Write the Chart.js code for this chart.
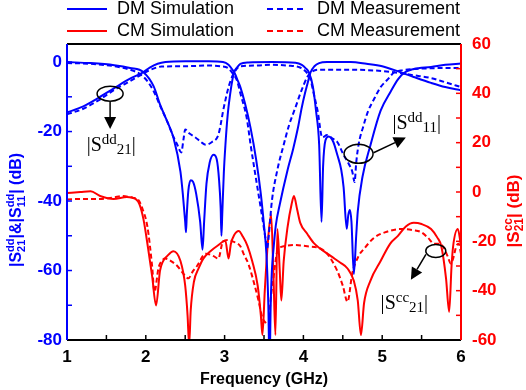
<!DOCTYPE html>
<html>
<head>
<meta charset="utf-8">
<script src="https://cdn.jsdelivr.net/npm/chart.js@4.4.1/dist/chart.umd.min.js"></script>
<style>
  html, body { margin: 0; padding: 0; background: #ffffff; }
  #wrap { width: 526px; height: 390px; position: relative; }
</style>
</head>
<body>
<div id="wrap"><canvas id="chart" width="526" height="390"></canvas></div>
<script>
"use strict";

// ---- data (GHz / dB) ----
const dmSimS21Freq = [1.0, 1.2, 1.4, 1.6, 1.8, 1.97, 2.05, 2.15, 2.25, 2.5, 2.8, 2.98, 3.05, 3.1, 3.13, 3.17, 3.2, 3.26, 3.33, 3.4, 3.46, 3.5, 3.53, 3.555, 3.57, 3.585, 3.6, 3.62, 3.65, 3.7, 3.8, 3.87, 3.93, 3.98, 4.02, 4.05, 4.09, 4.14, 4.2, 4.3, 4.6, 4.8, 5.0, 5.24, 5.4, 5.62, 5.8, 6.0];
const dmSimS21 = [-14.5, -12.8, -10.3, -7.5, -4.8, -2.9, -1.6, -0.5, 0, 0.2, 0.2, 0, -0.8, -2.2, -3.3, -5.5, -7.2, -12, -19, -28, -38, -47, -55, -70, -88, -70, -60, -54, -47, -41, -31, -25, -19, -13, -9, -6.4, -3, -1.2, -0.3, 0, 0, -0.5, -1.2, -3, -4.3, -6, -7.2, -8.1];

const dmSimS11Freq = [1.0, 1.3, 1.6, 1.8, 1.97, 2.1, 2.18, 2.27, 2.35, 2.44, 2.47, 2.5, 2.51, 2.52, 2.54, 2.57, 2.6, 2.64, 2.69, 2.72, 2.74, 2.77, 2.81, 2.86, 2.9, 2.93, 2.95, 2.96, 2.97, 2.99, 3.01, 3.04, 3.07, 3.1, 3.12, 3.16, 3.2, 3.3, 3.6, 3.9, 3.98, 4.03, 4.07, 4.12, 4.16, 4.2, 4.23, 4.25, 4.28, 4.32, 4.38, 4.43, 4.48, 4.51, 4.55, 4.57, 4.59, 4.61, 4.64, 4.67, 4.69, 4.75, 4.85, 4.98, 5.11, 5.2, 5.27, 5.4, 5.62, 5.8, 6.0];
const dmSimS11 = [0, -0.3, -0.9, -1.7, -2.9, -7, -12.2, -17, -21.7, -31.6, -38, -46, -49, -44, -37, -34, -34.5, -38, -46, -54, -46, -35, -29, -26.7, -28, -34, -42, -50, -44, -32, -24, -15, -9.3, -5, -3, -1.5, -0.5, -0.1, 0, -0.2, -0.8, -1.8, -3, -7, -14, -23.8, -46, -30, -22.5, -21.4, -23, -26.7, -31, -36, -48, -44, -42.6, -46, -61, -50, -43, -33, -24, -14, -8.4, -5, -3.2, -2, -1.4, -0.8, -0.4];

const dmMeasS21Freq = [1.0, 1.2, 1.4, 1.6, 1.8, 1.93, 2.05, 2.2, 2.5, 2.8, 2.95, 3.05, 3.1, 3.16, 3.2, 3.28, 3.33, 3.38, 3.43, 3.48, 3.52, 3.54, 3.56, 3.6, 3.67, 3.75, 3.82, 3.9, 3.97, 4.05, 4.12, 4.2, 4.5, 4.8, 5.0, 5.24, 5.4, 5.62, 5.8, 6.0];
const dmMeasS21 = [-15, -13.5, -11, -8, -5.5, -3.8, -2.3, -1.3, -1.2, -1.0, -1.2, -1.8, -3.2, -5.5, -9, -16, -23.8, -31, -38, -45, -51, -53.6, -50, -40, -31, -23.8, -18, -13, -8.5, -4.3, -2.6, -2.2, -2.2, -2.3, -2.6, -3.2, -3.8, -4.6, -5.8, -7.2];

const dmMeasS11Freq = [1.0, 1.3, 1.6, 1.8, 1.93, 2.02, 2.1, 2.18, 2.27, 2.35, 2.4, 2.45, 2.48, 2.5, 2.55, 2.63, 2.7, 2.76, 2.84, 2.92, 2.95, 2.98, 3.02, 3.05, 3.11, 3.2, 3.4, 3.6, 3.8, 3.95, 4.02, 4.06, 4.09, 4.13, 4.18, 4.24, 4.3, 4.37, 4.43, 4.51, 4.58, 4.62, 4.65, 4.67, 4.7, 4.76, 4.82, 4.9, 4.98, 5.07, 5.15, 5.24, 5.4, 5.6, 5.8, 6.0];
const dmMeasS11 = [-0.3, -0.5, -1.2, -2.2, -3.5, -5.5, -8.4, -12.5, -17, -21.5, -23.8, -26, -22, -19.4, -20.5, -21.7, -23, -23.8, -23, -21, -18, -14.2, -10, -7.2, -3.5, -1.2, -1.0, -0.8, -1.0, -1.5, -2.5, -3.6, -5, -9, -14, -21.7, -21, -22, -23, -26.7, -29.5, -31.5, -34.5, -29, -23.8, -18.5, -14.2, -10.5, -7.2, -5, -3, -2.4, -2, -1.8, -1.7, -1.7];

const cmSimFreq = [1.0, 1.17, 1.3, 1.42, 1.59, 1.76, 1.87, 1.92, 1.97, 2.03, 2.08, 2.13, 2.18, 2.22, 2.27, 2.35, 2.44, 2.5, 2.53, 2.55, 2.57, 2.61, 2.67, 2.73, 2.82, 2.91, 3.01, 3.05, 3.08, 3.12, 3.18, 3.23, 3.29, 3.35, 3.42, 3.46, 3.48, 3.51, 3.55, 3.59, 3.62, 3.645, 3.67, 3.7, 3.72, 3.75, 3.8, 3.85, 3.88, 3.92, 3.96, 4.05, 4.13, 4.35, 4.47, 4.56, 4.64, 4.69, 4.73, 4.77, 4.85, 4.98, 5.1, 5.2, 5.3, 5.4, 5.5, 5.62, 5.7, 5.75, 5.81, 5.85, 5.88, 5.9, 5.96, 6.0];
const cmSim = [-0.4, 0, 0.3, -1.6, -2.8, -2, -2.8, -5, -11, -23, -34, -46, -32, -28, -26, -24, -28, -38, -50, -62, -48, -36.5, -31, -27, -24, -21.8, -19.8, -27, -21, -17.5, -15.8, -18, -21.8, -28, -38, -50, -58, -40, -20, -9, -34, -58, -15, -32, -44, -28, -14, -5, -1.6, -7, -12.5, -17, -20.6, -26, -28.7, -31, -36, -44, -58, -45, -36, -28, -21, -17.8, -14, -12.5, -13, -15, -18.5, -22, -35, -48.6, -30, -22, -15, -22];

const cmMeasFreq = [1.0, 1.17, 1.42, 1.59, 1.71, 1.84, 1.9, 1.96, 2.02, 2.08, 2.11, 2.16, 2.2, 2.25, 2.32, 2.4, 2.5, 2.54, 2.6, 2.65, 2.76, 2.86, 2.92, 2.98, 3.05, 3.1, 3.2, 3.24, 3.3, 3.37, 3.43, 3.48, 3.52, 3.56, 3.58, 3.62, 3.67, 3.75, 3.88, 4.05, 4.22, 4.3, 4.43, 4.5, 4.56, 4.62, 4.7, 4.77, 4.9, 5.07, 5.24, 5.4, 5.49, 5.58, 5.66, 5.72, 5.77, 5.83, 5.87, 5.9, 5.94, 5.97, 6.0];
const cmMeas = [-3, -2.8, -2.8, -2.2, -1.6, -2.4, -3, -7, -14, -30, -40.5, -31, -28, -27, -28, -30, -34, -35, -32, -30, -25, -26, -27, -20, -19.5, -20, -22, -25, -29, -36.5, -44, -51, -53, -54, -45, -35, -24, -22, -21.5, -22, -23, -25, -32, -38, -44.5, -33, -26, -23, -18.5, -16, -15, -15.5, -16.2, -18.5, -21, -21, -22, -26, -29, -27, -22, -21, -25];

const freqTicks = [1, 2, 3, 4, 5, 6];
const leftTicks = [-80, -60, -40, -20, 0];
const rightTicks = [-60, -40, -20, 0, 20, 40, 60];

const BLUE = '#0000ff';
const RED = '#ff0000';
const SANS = '"Liberation Sans", Arial, sans-serif';
const SERIF = '"Liberation Serif", "Times New Roman", serif';

const pts = (xs, ys) => xs.map((x, i) => ({x: x, y: ys[i]}));

function line(label, xs, ys, color, dashed, axis) {
    return {
        label: label,
        data: pts(xs, ys),
        borderColor: color,
        backgroundColor: color,
        borderWidth: 2,
        borderDash: dashed ? [5, 3] : [],
        pointRadius: 0,
        fill: false,
        tension: 0,
        cubicInterpolationMode: 'monotone',
        yAxisID: axis
    };
}

// rich text: plain runs, and stacked super/sub pairs
function richText(ctx, parts, x, y, draw) {
    parts.forEach(p => {
        ctx.font = p.font;
        if (p.stack) {
            const w = Math.max(ctx.measureText(p.stack[0]).width, ctx.measureText(p.stack[1]).width);
            if (draw) {
                ctx.fillText(p.stack[0], x, y + p.up);
                ctx.fillText(p.stack[1], x, y + p.down);
            }
            x += w;
        } else {
            if (draw) ctx.fillText(p.text, x, y + (p.dy || 0));
            x += ctx.measureText(p.text).width;
        }
    });
    return x;
}

function serifLabel(sup, sub) {
    return [
        {text: '|S', font: '20px ' + SERIF},
        {text: sup, font: '15px ' + SERIF, dy: -7},
        {text: sub, font: '15px ' + SERIF, dy: 3},
        {text: '|', font: '20px ' + SERIF}
    ];
}

// annotation marks, positioned in data units
const notes = [
    {axis: 'y', c: [1.547, -9.1], rx: 13, ry: 7.5, from: [1.547, -11.5], to: [1.547, -19.3], at: [1.25, -25.5], sup: 'dd', sub: '21'},
    {axis: 'y', c: [4.70, -26.4], rx: 14.5, ry: 9.5, from: [4.89, -26.1], to: [5.30, -21.7], at: [5.13, -19.3], sup: 'dd', sub: '11'},
    {axis: 'y2', c: [5.68, -23.9], rx: 10, ry: 6.5, from: [5.555, -25.3], to: [5.364, -35.6], at: [4.98, -47.4], sup: 'cc', sub: '21'}
];

const decor = {
    id: 'decor',
    afterDraw(chart) {
        const ctx = chart.ctx;
        const a = chart.chartArea;
        const sx = chart.scales.x, sl = chart.scales.y, sr = chart.scales.y2;
        ctx.save();

        // inward tick marks
        ctx.lineWidth = 1.5;
        ctx.strokeStyle = '#000';
        for (let f = 1; f <= 6.001; f += 0.5) {
            const px = sx.getPixelForValue(f);
            ctx.beginPath(); ctx.moveTo(px, a.bottom); ctx.lineTo(px, a.bottom - 5); ctx.stroke();
        }
        ctx.strokeStyle = BLUE;
        for (let v = -80; v <= 0; v += 10) {
            const py = sl.getPixelForValue(v);
            ctx.beginPath(); ctx.moveTo(a.left, py); ctx.lineTo(a.left + 5, py); ctx.stroke();
        }
        ctx.strokeStyle = RED;
        for (let v = -60; v <= 60; v += 10) {
            const py = sr.getPixelForValue(v);
            ctx.beginPath(); ctx.moveTo(a.right, py); ctx.lineTo(a.right - 5, py); ctx.stroke();
        }

        // frame
        ctx.lineWidth = 2;
        ctx.strokeStyle = '#000';
        ctx.beginPath(); ctx.moveTo(a.left, a.top); ctx.lineTo(a.right, a.top); ctx.stroke();
        ctx.beginPath(); ctx.moveTo(a.left, a.bottom); ctx.lineTo(a.right, a.bottom); ctx.stroke();
        ctx.strokeStyle = BLUE;
        ctx.beginPath(); ctx.moveTo(a.left, a.top); ctx.lineTo(a.left, a.bottom); ctx.stroke();
        ctx.strokeStyle = RED;
        ctx.beginPath(); ctx.moveTo(a.right, a.top); ctx.lineTo(a.right, a.bottom); ctx.stroke();

        // legend
        const legend = [
            {text: 'DM Simulation', color: BLUE, dash: [], x: 67, y: 9},
            {text: 'DM Measurement', color: BLUE, dash: [6, 4], x: 267, y: 9},
            {text: 'CM Simulation', color: RED, dash: [], x: 67, y: 31},
            {text: 'CM Measurement', color: RED, dash: [6, 4], x: 267, y: 31}
        ];
        ctx.font = '18px ' + SANS;
        ctx.textBaseline = 'middle';
        legend.forEach(l => {
            ctx.strokeStyle = l.color;
            ctx.setLineDash(l.dash);
            ctx.beginPath(); ctx.moveTo(l.x, l.y); ctx.lineTo(l.x + 40, l.y); ctx.stroke();
            ctx.setLineDash([]);
            ctx.fillStyle = '#000';
            ctx.fillText(l.text, l.x + 50, l.y);
        });

        // rotated axis titles
        ctx.textBaseline = 'alphabetic';
        const leftTitle = [
            {text: '|S', font: 'bold 16px ' + SANS},
            {stack: ['dd', '21'], font: 'bold 11px ' + SANS, up: -7, down: 4},
            {text: '|&|S', font: 'bold 16px ' + SANS},
            {stack: ['dd', '11'], font: 'bold 11px ' + SANS, up: -7, down: 4},
            {text: '| (dB)', font: 'bold 16px ' + SANS}
        ];
        const rightTitle = [
            {text: '|S', font: 'bold 17px ' + SANS},
            {stack: ['cc', '21'], font: 'bold 12px ' + SANS, up: -7, down: 4},
            {text: '| (dB)', font: 'bold 17px ' + SANS}
        ];
        [[leftTitle, 15, 210, BLUE], [rightTitle, 513, 211, RED]].forEach(([parts, cx, cy, color]) => {
            const w = richText(ctx, parts, 0, 0, false);
            ctx.save();
            ctx.translate(cx, cy);
            ctx.rotate(-Math.PI / 2);
            ctx.fillStyle = color;
            richText(ctx, parts, -w / 2, 6, true);
            ctx.restore();
        });

        // annotations: ellipse, arrow, label
        ctx.strokeStyle = '#000';
        ctx.fillStyle = '#000';
        ctx.lineWidth = 1.5;
        notes.forEach(n => {
            const sy = chart.scales[n.axis];
            const X = f => sx.getPixelForValue(f), Y = v => sy.getPixelForValue(v);
            ctx.beginPath();
            ctx.ellipse(X(n.c[0]), Y(n.c[1]), n.rx, n.ry, 0, 0, Math.PI * 2);
            ctx.stroke();
            const x1 = X(n.from[0]), y1 = Y(n.from[1]), x2 = X(n.to[0]), y2 = Y(n.to[1]);
            const ang = Math.atan2(y2 - y1, x2 - x1), hl = 12, hw = 6;
            const bx = x2 - hl * Math.cos(ang), by = y2 - hl * Math.sin(ang);
            ctx.beginPath(); ctx.moveTo(x1, y1); ctx.lineTo(bx, by); ctx.stroke();
            ctx.beginPath();
            ctx.moveTo(x2, y2);
            ctx.lineTo(bx + hw * Math.sin(ang), by - hw * Math.cos(ang));
            ctx.lineTo(bx - hw * Math.sin(ang), by + hw * Math.cos(ang));
            ctx.closePath();
            ctx.fill();
            richText(ctx, serifLabel(n.sup, n.sub), X(n.at[0]), Y(n.at[1]), true);
        });

        ctx.restore();
    }
};

const ctx = document.getElementById('chart').getContext('2d');

new Chart(ctx, {
    type: 'line',
    data: {
        datasets: [
            line('DM Simulation', dmSimS21Freq, dmSimS21, BLUE, false, 'y'),
            line('DM Simulation', dmSimS11Freq, dmSimS11, BLUE, false, 'y'),
            line('DM Measurement', dmMeasS21Freq, dmMeasS21, BLUE, true, 'y'),
            line('DM Measurement', dmMeasS11Freq, dmMeasS11, BLUE, true, 'y'),
            line('CM Simulation', cmSimFreq, cmSim, RED, false, 'y2'),
            line('CM Measurement', cmMeasFreq, cmMeas, RED, true, 'y2')
        ]
    },
    options: {
        responsive: false,
        animation: false,
        devicePixelRatio: 1,
        layout: {padding: {top: 44, left: 0, right: 0, bottom: 0}},
        plugins: {
            legend: {display: false},
            tooltip: {enabled: false}
        },
        scales: {
            x: {
                type: 'linear',
                min: 1,
                max: 6,
                afterFit: scale => { scale.height = 50; },
                afterBuildTicks: scale => { scale.ticks = freqTicks.map(v => ({value: v})); },
                grid: {display: false, drawTicks: false},
                border: {display: false},
                ticks: {
                    color: '#000',
                    font: {family: SANS, size: 17, weight: 'bold'},
                    padding: 7,
                    maxRotation: 0,
                    autoSkip: false
                },
                title: {
                    display: true,
                    text: 'Frequency (GHz)',
                    color: '#000',
                    font: {family: SANS, size: 16, weight: 'bold'},
                    padding: {top: 0, bottom: 1}
                }
            },
            y: {
                type: 'linear',
                position: 'left',
                min: -80,
                max: 5.2,
                afterFit: scale => { scale.width = 67; },
                afterBuildTicks: scale => { scale.ticks = leftTicks.map(v => ({value: v})); },
                grid: {display: false, drawTicks: false},
                border: {display: false},
                ticks: {
                    color: BLUE,
                    font: {family: SANS, size: 17, weight: 'bold'},
                    padding: 5
                }
            },
            y2: {
                type: 'linear',
                position: 'right',
                min: -60,
                max: 60,
                afterFit: scale => { scale.width = 65; },
                afterBuildTicks: scale => { scale.ticks = rightTicks.map(v => ({value: v})); },
                grid: {display: false, drawTicks: false},
                border: {display: false},
                ticks: {
                    color: RED,
                    font: {family: SANS, size: 17, weight: 'bold'},
                    padding: 11
                }
            }
        }
    },
    plugins: [decor]
});
</script>
</body>
</html>
